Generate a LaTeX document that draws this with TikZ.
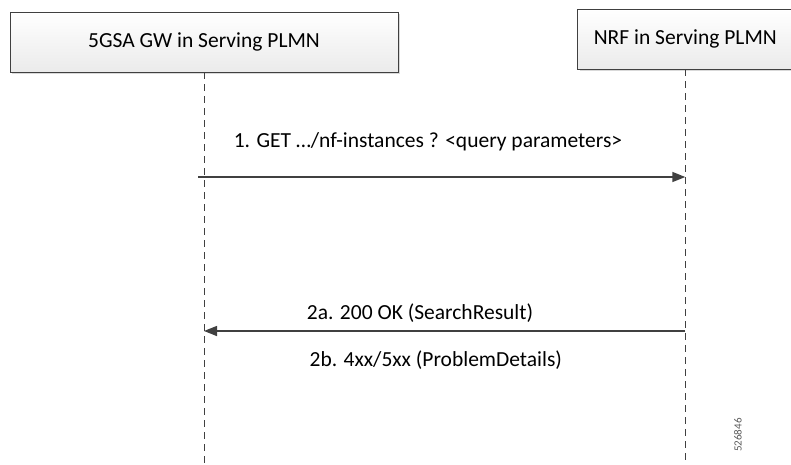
\documentclass[tikz,border=0pt]{standalone}
\usepackage{fontspec}
\setmainfont{Carlito}
\usetikzlibrary{arrows.meta, positioning, shadows}

\begin{document}
\begin{tikzpicture}[
    x = 1pt, y = -1pt, % one unit is one pixel of the sketch
    > = {Triangle[length=13pt, width=10pt]}, % arrow head style
    font = \fontsize{21.5}{24}\selectfont,
    semithick, % line style
    actor/.style={rectangle, draw=black!75, thick, top color=white, bottom color=black!8,
      minimum height=60pt, inner sep=0pt,
      drop shadow={shadow xshift=2pt, shadow yshift=-2pt, opacity=0.3}},
    lifeline/.style={draw=black!75, thick, dash pattern=on 7pt off 5pt},
    msg/.style={draw=black!75, line width=1.4pt, ->}
  ]

  \useasboundingbox (0,0) rectangle (791,464);

  \node[actor, minimum width=388pt] (gw) at (204,42) {5GSA GW in Serving PLMN};
  \node[actor, minimum width=215pt] (nrf) [right = 179pt of gw, yshift=3pt] {NRF in Serving PLMN};

  % lifelines
  \coordinate (gwEnd) at (gw.south |- 0,464);
  \coordinate (nrfEnd) at (nrf.south |- 0,464);
  \draw[lifeline] (gw) -- (gwEnd);
  \draw[lifeline] (nrf) -- (nrfEnd);

  % messages
  \coordinate (gwReq) at (198,177);
  \coordinate (nrfReq) at (nrf.south |- 0,177);
  \coordinate (gwRsp) at (gw.south |- 0,331);
  \coordinate (nrfRsp) at (nrf.south |- 0,331);

  \draw[msg] (gwReq) -- (nrfReq);
  \draw[msg] (nrfRsp) -- (gwRsp);

  \node (req) at (428,142) {1. GET …/nf-instances ? <query parameters>};
  \node (ok) at (420,313) {2a. 200 OK (SearchResult)};
  \node[anchor=west] (err) at (306,360) {2b. 4xx/5xx (ProblemDetails)};

  \node[rotate=90, text=black!65, font=\fontsize{11}{12}\selectfont] (fig) at (738,435) {526846};
\end{tikzpicture}
\end{document}
